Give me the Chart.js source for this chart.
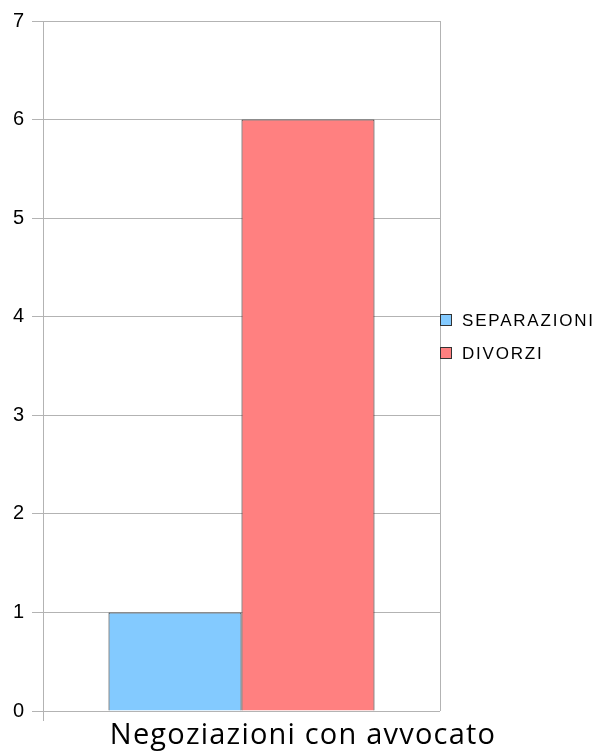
<!DOCTYPE html>
<html>
<head>
<meta charset="utf-8">
<script src="https://cdn.jsdelivr.net/npm/chart.js@4/dist/chart.umd.min.js"></script>
<style>
html,body{margin:0;padding:0;background:#fff;}
#wrap{width:601px;height:751px;position:relative;}
</style>
</head>
<body>
<div id="wrap"><canvas id="c" width="601" height="751"></canvas></div>
<script>
const categories = ["Negoziazioni con avvocato"];
const seriesNames = ["SEPARAZIONI", "DIVORZI"];
const separazioni = [1];
const divorzi = [6];
const yTicks = [0, 1, 2, 3, 4, 5, 6, 7];

const colors = ["#83caff", "#ff8080"];
const gridColor = "#b3b3b3";

const legendPlugin = {
  id: "customLegend",
  afterDraw(chart) {
    const ctx = chart.ctx;
    const ca = chart.chartArea;
    ctx.save();
    // small extension of left axis below baseline
    ctx.strokeStyle = gridColor;
    ctx.lineWidth = 1;
    ctx.beginPath();
    ctx.moveTo(Math.round(ca.left) + 0.5, ca.bottom);
    ctx.lineTo(Math.round(ca.left) + 0.5, ca.bottom + 10);
    ctx.stroke();
    // category label
    ctx.font = "29px 'Open Sans'";
    ctx.textBaseline = "alphabetic";
    ctx.textAlign = "center";
    try { ctx.letterSpacing = "1.2px"; } catch (e) {}
    ctx.fillStyle = "#000";
    ctx.fillText(chart.data.labels[0], 303, 744);
    // legend
    ctx.font = "17px 'Liberation Sans'";
    ctx.textBaseline = "middle";
    ctx.textAlign = "left";
    try { ctx.letterSpacing = "1.8px"; } catch (e) {}
    chart.data.datasets.forEach((ds, i) => {
      const y = 320 + i * 33;
      ctx.fillStyle = ds.backgroundColor;
      ctx.fillRect(440.5, y - 5.5, 11, 11);
      ctx.strokeStyle = "#333";
      ctx.strokeRect(440.5, y - 5.5, 11, 11);
      ctx.fillStyle = "#000";
      ctx.fillText(ds.label, 462, y + 1);
    });
    ctx.restore();
  }
};

new Chart(document.getElementById("c"), {
  type: "bar",
  data: {
    labels: categories,
    datasets: [
      { label: seriesNames[0], data: separazioni, backgroundColor: colors[0], borderColor: "#1a1a1a", borderWidth: 1 },
      { label: seriesNames[1], data: divorzi, backgroundColor: colors[1], borderColor: "#1a1a1a", borderWidth: 1 }
    ]
  },
  options: {
    responsive: false,
    animation: false,
    devicePixelRatio: 1,
    layout: { padding: { left: 0, right: 161, top: 21, bottom: 0 } },
    plugins: { legend: { display: false }, tooltip: { enabled: false } },
    datasets: { bar: { categoryPercentage: 0.67, barPercentage: 1 } },
    scales: {
      x: {
        grid: { display: true, offset: true, color: gridColor, drawTicks: false },
        border: { display: false },
        ticks: { display: false },
        afterFit(s) { s.height = 40; }
      },
      y: {
        min: 0, max: 7,
        afterBuildTicks(s) { s.ticks = yTicks.map(v => ({ value: v })); },
        grid: { color: gridColor, tickLength: 11 },
        border: { color: gridColor },
        ticks: { color: "#000", font: { family: "'Liberation Sans'", size: 20 }, padding: 8 },
        afterFit(s) { s.width = 43; }
      }
    }
  },
  plugins: [legendPlugin]
});
</script>
</body>
</html>
